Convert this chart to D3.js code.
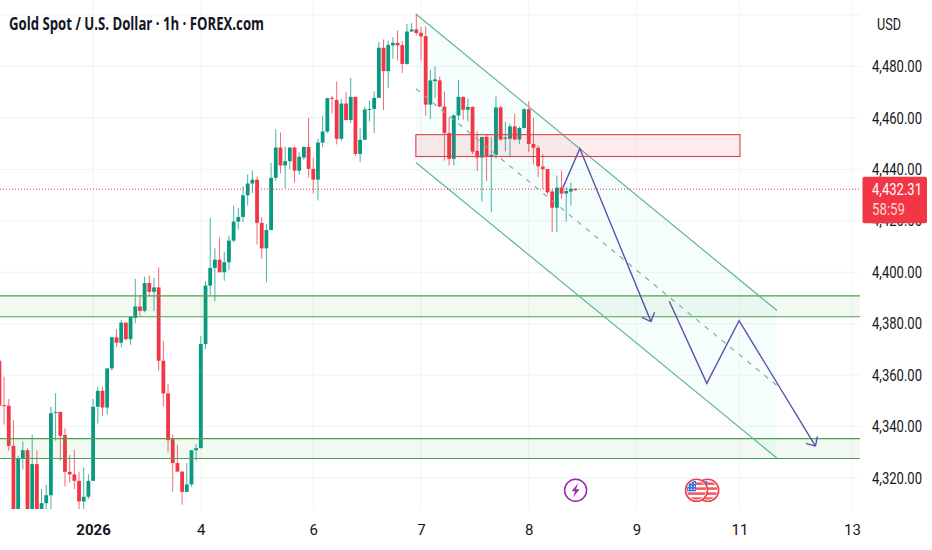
<!DOCTYPE html>
<html>
<head>
<meta charset="utf-8">
<script src="https://cdn.jsdelivr.net/npm/d3@7"></script>
<style>
  html, body { margin: 0; padding: 0; background: #fff; }
  svg { display: block; }
  text { font-family: Roboto, sans-serif; fill: #131722; }
  .axis path, .axis line { display: none; }
</style>
</head>
<body>
<svg id="chart" width="932" height="550"></svg>
<script>
// hourly bars, one entry per bar
var opens = [
  4365.6,4348.3,4348.1,4332.5,4304.6,4327.7,4330.8,4304.6,4325.4,4305.9,
  4310.2,4313.3,4345.4,4345.7,4336.7,4322.4,4321.4,4318.9,4310.9,4312.7,
  4318.9,4347.7,4353.9,4347.4,4362.6,4374.7,4372.6,4380.4,4374.0,4382.2,
  4386.7,4385.0,4395.8,4392.4,4394.1,4365.6,4352.9,4335.1,4325.8,4322.5,
  4314.6,4317.5,4330.8,4331.6,4372.1,4394.8,4401.7,4404.9,4400.0,4403.9,
  4412.3,4419.7,4421.5,4429.9,4434.5,4436.0,4419.2,4409.3,4416.4,4436.7,
  4448.5,4441.5,4443.2,4448.5,4439.5,4444.6,4448.7,4440.2,4436.0,4450.4,
  4454.7,4467.8,4467.0,4451.9,4465.6,4459.2,4468.2,4446.0,4451.5,4463.3,
  4463.5,4467.8,4487.3,4478.2,4488.2,4489.2,4488.3,4481.0,4493.6,4494.4,
  4493.1,4491.8,4465.2,4474.3,4474.6,4464.4,4454.1,4444.1,4461.0,4468.2,
  4463.2,4464.3,4447.2,4444.6,4452.6,4445.1,4445.6,4464.1,4451.9,4451.9,
  4456.7,4451.6,4456.1,4463.4,4449.9,4448.4,4441.1,4440.1,4431.4,4425.1,
  4432.9,4430.6,4431.4,4432.4];
var closes = [
  4348.1,4348.1,4332.5,4304.6,4327.7,4330.8,4304.6,4325.4,4304.6,4310.2,
  4313.3,4345.2,4345.7,4336.4,4322.4,4321.4,4318.9,4310.9,4312.7,4318.9,
  4347.7,4353.9,4347.4,4362.6,4374.7,4372.6,4380.4,4374.0,4382.7,4386.7,
  4385.0,4395.8,4392.4,4394.1,4365.6,4352.9,4334.7,4325.8,4322.5,4314.6,
  4317.5,4330.8,4331.6,4372.1,4394.8,4401.7,4404.9,4400.0,4403.9,4412.3,
  4419.7,4421.5,4429.9,4434.5,4436.0,4419.2,4409.3,4416.4,4436.7,4448.5,
  4441.5,4443.2,4448.5,4439.5,4444.9,4448.7,4440.2,4436.0,4450.4,4454.7,
  4467.7,4467.6,4451.9,4465.6,4459.2,4468.2,4446.0,4451.5,4463.3,4463.5,
  4467.8,4487.3,4478.2,4488.4,4489.2,4488.2,4481.0,4493.6,4494.4,4493.0,
  4491.7,4465.2,4474.6,4475.0,4464.4,4454.1,4444.1,4461.0,4468.2,4463.2,
  4464.3,4446.9,4444.6,4452.6,4445.1,4445.6,4464.1,4451.6,4452.4,4456.7,
  4451.6,4456.1,4463.4,4449.9,4448.4,4441.2,4440.1,4431.1,4425.1,4432.9,
  4430.6,4431.6,4432.4,4432.31];
var highs = [
  4365.6,4359.4,4350.7,4342.5,4328.6,4334.2,4331.6,4336.8,4330.8,4315.7,
  4317.3,4347.7,4353.0,4345.7,4339.3,4328.9,4331.0,4322.5,4324.1,4321.5,
  4350.7,4355.5,4355.5,4362.6,4374.9,4377.9,4381.4,4380.4,4382.7,4397.4,
  4391.1,4398.3,4398.8,4397.8,4401.9,4373.4,4356.5,4336.8,4332.9,4322.5,
  4325.8,4330.8,4333.2,4375.3,4396.5,4421.1,4409.3,4413.6,4408.0,4414.2,
  4425.9,4425.0,4433.4,4438.0,4439.5,4437.2,4421.4,4418.8,4442.5,4455.6,
  4454.3,4448.9,4448.6,4448.9,4446.7,4449.0,4460.0,4444.5,4451.9,4460.9,
  4467.8,4468.6,4474.2,4467.4,4470.1,4475.6,4468.2,4456.0,4464.4,4466.8,
  4470.4,4489.5,4490.5,4490.1,4491.4,4494.0,4489.9,4496.6,4496.9,4500.5,
  4495.3,4495.6,4478.7,4480.1,4476.1,4470.3,4460.3,4461.3,4474.8,4468.3,
  4467.6,4464.4,4454.8,4452.6,4453.8,4452.5,4468.3,4464.8,4458.6,4457.7,
  4461.6,4456.7,4463.7,4466.5,4460.0,4449.3,4446.0,4440.2,4432.4,4437.6,
  4439.5,4433.1,4435.0,4432.7];
var lows = [
  4348.1,4340.7,4330.6,4304.6,4304.6,4323.4,4304.6,4304.6,4304.6,4305.9,
  4307.9,4307.9,4334.5,4326.7,4316.7,4318.3,4315.7,4307.9,4307.2,4311.8,
  4318.9,4341.2,4344.2,4344.6,4361.7,4371.0,4370.8,4373.4,4371.8,4380.2,
  4383.0,4384.4,4390.6,4385.0,4361.7,4347.8,4329.9,4314.7,4322.5,4309.6,
  4314.6,4316.6,4326.7,4331.6,4370.1,4390.9,4388.7,4400.0,4396.7,4400.9,
  4411.6,4416.6,4419.4,4425.9,4430.8,4410.7,4405.2,4396.1,4416.4,4435.6,
  4438.5,4432.7,4439.9,4434.9,4438.0,4443.7,4436.9,4430.7,4427.9,4448.6,
  4454.1,4461.8,4449.7,4451.2,4459.0,4458.0,4445.2,4442.8,4451.5,4458.7,
  4454.1,4467.8,4463.1,4471.6,4483.0,4482.3,4477.5,4480.7,4493.6,4492.1,
  4482.3,4460.9,4459.6,4467.8,4464.2,4443.4,4441.5,4441.5,4459.3,4459.3,
  4458.7,4446.0,4439.3,4427.6,4435.4,4423.3,4444.1,4451.2,4447.0,4445.1,
  4451.5,4449.9,4455.9,4446.7,4441.9,4437.0,4432.4,4430.2,4415.6,4415.6,
  4428.5,4419.7,4425.9,4431.6];

var priceTicks = [4320, 4340, 4360, 4380, 4400, 4420, 4440, 4460, 4480];
var dayTicks = [20, 43, 67, 90, 113, 136, 158, 182];
var dayLabels = ["2026", "4", "6", "7", "8", "9", "11", "13"];
var lastPrice = 4432.31;

// drawings, as [bar, price]
var channelUpper = [[88.9, 4500.4], [166, 4385.1]];
var channelMiddle = [[88.9, 4471.4], [166, 4355.9]];
var channelLower = [[88.9, 4442.7], [166, 4327.7]];
var resistanceBox = {x0: 88.9, x1: 158.1, top: 4453.5, bottom: 4445};
var greenZones = [[4390.8, 4382.7], [4335.3, 4327.6]];
var arrowOne = [[120.3, 4432.9], [123.9, 4448.1], [139.1, 4380.8]];
var arrowTwo = [[143, 4388.7], [151, 4356.8], [157.9, 4381.2], [174.2, 4332.4]];

var W = 932, H = 550, plotRight = 860, plotBottom = 509;
var bars = d3.range(opens.length);

var svg = d3.select("#chart");
var x = d3.scaleLinear().domain([0, 123]).range([-0.6, 575.6]);
var y = d3.scaleLinear().domain([4320, 4480]).range([478, 66.5]);

svg.append("defs").append("clipPath").attr("id", "plotClip")
  .append("rect").attr("width", plotRight).attr("height", plotBottom);

var plot = svg.append("g").attr("clip-path", "url(#plotClip)");

// grid
plot.append("g").selectAll("line").data(priceTicks.concat([4500])).enter().append("line")
  .attr("x1", 0).attr("x2", plotRight)
  .attr("y1", function(d){ return y(d); }).attr("y2", function(d){ return y(d); })
  .attr("stroke", "#f2f3f5");
plot.append("g").selectAll("line").data(dayTicks).enter().append("line")
  .attr("x1", function(d){ return x(d); }).attr("x2", function(d){ return x(d); })
  .attr("y1", 0).attr("y2", plotBottom)
  .attr("stroke", "#f2f3f5");

// channel fill goes under the candles
var polyPts = [channelUpper[0], channelUpper[1], channelLower[1], channelLower[0]];
plot.append("polygon")
  .attr("points", polyPts.map(function(d){ return x(d[0]) + "," + y(d[1]); }).join(" "))
  .attr("fill", "#00bcd4").attr("fill-opacity", 0.035);

// candles
var up = "#089981", down = "#f23645";
function barColor(i){ return closes[i] >= opens[i] ? up : down; }
plot.append("g").selectAll("line").data(bars).enter().append("line")
  .attr("x1", function(i){ return x(i); }).attr("x2", function(i){ return x(i); })
  .attr("y1", function(i){ return y(highs[i]); }).attr("y2", function(i){ return y(lows[i]); })
  .attr("stroke", barColor).attr("stroke-opacity", 0.75);
plot.append("g").selectAll("rect").data(bars).enter().append("rect")
  .attr("x", function(i){ return x(i) - 1.9; })
  .attr("width", 3.8)
  .attr("y", function(i){ return y(Math.max(opens[i], closes[i])); })
  .attr("height", function(i){ return Math.max(1, Math.abs(y(opens[i]) - y(closes[i]))); })
  .attr("fill", barColor);

// support zones
greenZones.forEach(function(z){
  plot.append("rect").attr("x", 0).attr("width", plotRight)
    .attr("y", y(z[0])).attr("height", y(z[1]) - y(z[0]))
    .attr("fill", "#4caf50").attr("fill-opacity", 0.08);
  z.forEach(function(p){
    plot.append("line").attr("x1", 0).attr("x2", plotRight)
      .attr("y1", y(p)).attr("y2", y(p))
      .attr("stroke", "#4f9f52").attr("stroke-width", 1.1);
  });
});

// channel lines
var line = d3.line().x(function(d){ return x(d[0]); }).y(function(d){ return y(d[1]); });
[channelUpper, channelLower].forEach(function(c){
  plot.append("path").attr("d", line(c)).attr("fill", "none")
    .attr("stroke", "#5fb59b").attr("stroke-width", 1.2);
});
plot.append("path").attr("d", line(channelMiddle)).attr("fill", "none")
  .attr("stroke", "#6fb8a2").attr("stroke-width", 1.2).attr("stroke-dasharray", "5 6");

// resistance box
plot.append("rect")
  .attr("x", x(resistanceBox.x0)).attr("width", x(resistanceBox.x1) - x(resistanceBox.x0))
  .attr("y", y(resistanceBox.top)).attr("height", y(resistanceBox.bottom) - y(resistanceBox.top))
  .attr("fill", "#f23645").attr("fill-opacity", 0.1)
  .attr("stroke", "#e2404e").attr("stroke-width", 1.1);

// last price line
plot.append("line").attr("x1", 0).attr("x2", plotRight)
  .attr("y1", y(lastPrice)).attr("y2", y(lastPrice))
  .attr("stroke", down).attr("stroke-width", 1).attr("stroke-dasharray", "1 2");

// projected path arrows
function drawArrow(pts){
  plot.append("path").attr("d", line(pts)).attr("fill", "none")
    .attr("stroke", "#5e52ad").attr("stroke-width", 1.4);
  var a = pts[pts.length - 2], b = pts[pts.length - 1];
  var tipX = x(b[0]), tipY = y(b[1]);
  var ang = Math.atan2(tipY - y(a[1]), tipX - x(a[0]));
  [0.75, -0.75].forEach(function(da){
    plot.append("line").attr("x1", tipX).attr("y1", tipY)
      .attr("x2", tipX - 10 * Math.cos(ang + da)).attr("y2", tipY - 10 * Math.sin(ang + da))
      .attr("stroke", "#5e52ad").attr("stroke-width", 1.4);
  });
}
drawArrow(arrowOne);
drawArrow(arrowTwo);

// event icons
var iconY = 490.3;
var bolt = svg.append("g").attr("transform", "translate(" + x(123) + "," + iconY + ")");
bolt.append("circle").attr("r", 11).attr("fill", "#fff").attr("stroke", "#9c27b0").attr("stroke-width", 1.5);
bolt.append("path").attr("d", "M2.5,-7 L-4,1 L-0.5,1 L-2.5,7 L4,-1 L0.5,-1 Z").attr("fill", "#9c27b0");

var defs = svg.select("defs");
function flag(cx, id){
  var g = svg.append("g").attr("transform", "translate(" + cx + "," + iconY + ")");
  defs.append("clipPath").attr("id", id).append("circle").attr("r", 9.5);
  g.append("circle").attr("r", 11).attr("fill", "#fff").attr("stroke", "#ef3f4c").attr("stroke-width", 1.6);
  var inner = g.append("g").attr("clip-path", "url(#" + id + ")");
  [-8, -3, 2, 7].forEach(function(s){
    inner.append("rect").attr("x", -11).attr("y", s).attr("width", 22).attr("height", 2.6).attr("fill", "#ee5a65");
  });
  inner.append("rect").attr("x", -11).attr("y", -11).attr("width", 10.5).attr("height", 12).attr("fill", "#2f74d8");
  [-8, -5, -2].forEach(function(dx){
    [-7, -4, -1].forEach(function(dy){
      inner.append("circle").attr("cx", dx).attr("cy", dy).attr("r", 0.7).attr("fill", "#fff");
    });
  });
}
flag(x(151.2), "flagB");
flag(x(148.8), "flagA");

// axes
var xAxis = d3.axisBottom(x).tickValues(dayTicks).tickSize(0)
  .tickFormat(function(d, i){ return dayLabels[i]; });
var xg = svg.append("g").attr("class", "axis").attr("transform", "translate(0,527)").call(xAxis);
xg.selectAll("text").attr("dy", "0.35em").style("font-size", "15px").style("fill", "#131722")
  .style("font-weight", function(d, i){ return i == 0 ? 700 : 400; });

var yAxis = d3.axisRight(y).tickValues(priceTicks).tickSize(0)
  .tickFormat(d3.format(",.2f"));
var yg = svg.append("g").attr("class", "axis").attr("transform", "translate(" + plotRight + ",0)").call(yAxis);
yg.selectAll("text").attr("x", 12).style("font-size", "16px").style("fill", "#131722")
  .attr("textLength", 50).attr("lengthAdjust", "spacingAndGlyphs");

// last price tag
var tagTop = y(lastPrice) - 12.5;
svg.append("rect").attr("x", 862.5).attr("y", tagTop).attr("width", 64.5).attr("height", 46.5)
  .attr("rx", 2).attr("fill", down);
svg.append("text").attr("x", 872).attr("y", y(lastPrice) + 5.5).attr("textLength", 50).attr("lengthAdjust", "spacingAndGlyphs")
  .style("font-size", "16px").style("fill", "#fff").text(d3.format(",.2f")(lastPrice));
svg.append("text").attr("x", 872).attr("y", y(lastPrice) + 25.5).attr("textLength", 33).attr("lengthAdjust", "spacingAndGlyphs")
  .style("font-size", "16px").style("fill", "#ffd2d6").text("58:59");

// header
svg.append("text").attr("x", 877).attr("y", 30).attr("textLength", 24).attr("lengthAdjust", "spacingAndGlyphs")
  .style("font-size", "16px").text("USD");
svg.append("text").attr("x", 9).attr("y", 30).attr("textLength", 255).attr("lengthAdjust", "spacingAndGlyphs")
  .style("font-family", "'Open Sans', sans-serif").style("font-weight", 700).style("font-size", "17px")
  .text("Gold Spot / U.S. Dollar · 1h · FOREX.com");
</script>
</body>
</html>
